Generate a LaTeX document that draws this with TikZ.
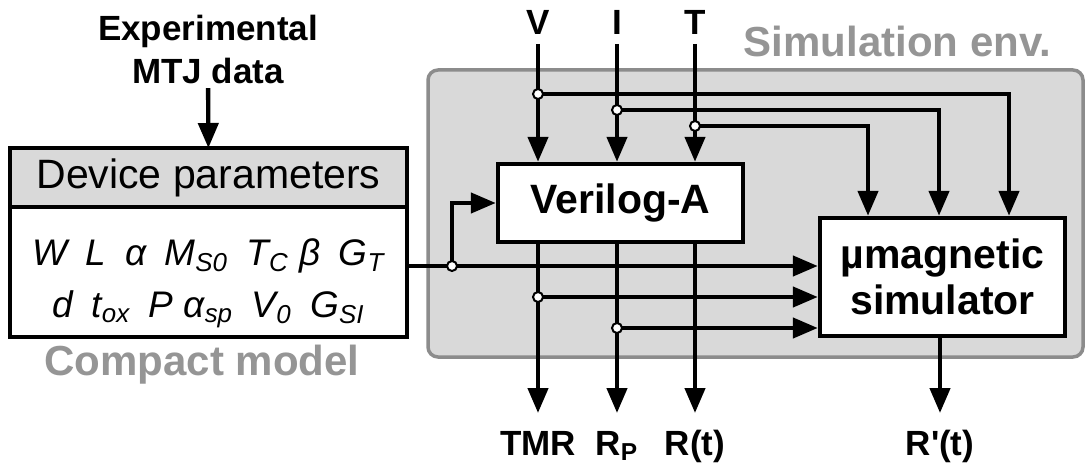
\documentclass[tikz,border=0pt]{standalone}
\usepackage{fontspec}
\setmainfont{Liberation Sans}
\usepackage{tikz}
\usetikzlibrary{positioning, calc, arrows.meta}

\definecolor{envfill}{HTML}{D9D9D9}
\definecolor{envdraw}{HTML}{8C8C8C}
\definecolor{softgray}{HTML}{959595}

\begin{document}
\begin{tikzpicture}[
  x=0.5pt, y=-0.5pt,
  line width=2.2pt,
  every node/.style={align=center},
  env/.style={rectangle, draw=envdraw, fill=envfill, line width=1.75pt,
              rounded corners=5pt, minimum width=327.5pt, minimum height=143.5pt},
  block/.style={rectangle, draw, fill=white, line width=2.2pt,
                minimum width=122.5pt, font=\bfseries\fontsize{20.5}{23}\selectfont},
  hdr/.style={rectangle, draw, fill=envfill, line width=2.2pt, outer sep=0pt,
              minimum width=198.5pt, minimum height=29.5pt,
              font=\fontsize{20.5}{23}\selectfont},
  body/.style={rectangle, draw, fill=white, line width=2.2pt, outer sep=0pt,
               inner sep=2pt, minimum width=198.5pt, minimum height=65pt,
               font=\itshape\fontsize{18.5}{25.5}\selectfont},
  sig/.style={font=\bfseries\fontsize{17.5}{21.5}\selectfont},
  outlbl/.style={sig, inner sep=0pt, outer sep=8pt, text height=13pt, text depth=0pt},
  title/.style={font=\bfseries\fontsize{21}{24}\selectfont, text=softgray},
  flow/.style={-{Triangle[length=12.5pt, width=10pt]}, line width=2.2pt},
  tap/.style={circle, draw, fill=white, line width=1pt, inner sep=0pt, minimum size=5pt}
]
\useasboundingbox (0,0) rectangle (1086,465);

% --- Simulation environment ---
\node[env] (env) at (755.5,213.5) {};
\node[title, anchor=base east] (envlbl) at (1060,57) {Simulation env.};

% --- Compact model ---
\node[hdr] (hdr) at (208.5,177.5) {Device parameters};
\node[body, below=0pt of hdr] (params) {%
  \rule{0pt}{25pt}W\enspace L\enspace α\enspace M\textsubscript{S0}\enspace T\textsubscript{C}\ β\enspace G\textsubscript{T}\\[0.5pt]
  d\enspace t\textsubscript{ox}\enspace P\ α\textsubscript{sp}\enspace V\textsubscript{0}\enspace G\textsubscript{SI}};
\node[title, anchor=base] (cmlbl) at (202,375) {Compact model};
\node[sig, anchor=north, inner sep=1pt] (exp) at (208,11) {Experimental\\MTJ data};

% --- Blocks ---
\node[block, minimum height=39pt] (veri) at (620.5,203) {Verilog-A};
\node[block, minimum height=59pt] (sim) at (942.5,277) {µmagnetic\\simulator};

% --- Inputs and outputs ---
\node[sig, anchor=base] (V) at (538,35) {V};
\node[sig, anchor=base] (I) at (617,35) {I};
\node[sig, anchor=base] (T) at (695,35) {T};
\node[outlbl, anchor=base] (TMR) at (538,455) {TMR};
\node[outlbl, anchor=base] (Rp) at (617,455) {R\textsubscript{P}};
\node[outlbl, anchor=base] (Rt) at (695,455) {R(t)};
\node[outlbl, anchor=base] (Rt2) at (940,455) {R\textquotesingle(t)};

% --- Junctions ---
\coordinate (jV) at (538,94);
\coordinate (jI) at (617,110);
\coordinate (jT) at (695,126);
\coordinate (jP) at (452,266);
\coordinate (jV2) at (538,297);
\coordinate (jI2) at (617,328);

% --- Arrows ---
\draw[flow] (exp) -- (hdr);
\draw[flow] (V) -- (V |- veri.north);
\draw[flow] (I) -- (I |- veri.north);
\draw[flow] (T) -- (T |- veri.north);

\draw[flow] (jV) -| ([xshift=33.25pt]sim.north);
\draw[flow] (jI) -| ([xshift=-1.75pt]sim.north);
\draw[flow] (jT) -| ([xshift=-37.25pt]sim.north);

\draw[flow] (params.east |- jP) -- (sim.west |- jP);
\draw[flow] (jP) |- (veri.west);
\draw[flow] (jV2) -- (sim.west |- jV2);
\draw[flow] (jI2) -- (sim.west |- jI2);

\draw[flow] (veri.south -| TMR) -- (TMR.north);
\draw[flow] (veri.south -| Rp) -- (Rp.north);
\draw[flow] (veri.south -| Rt) -- (Rt.north);
\draw[flow] (sim.south -| Rt2) -- (Rt2.north);

\foreach \j in {jV, jI, jT, jP, jV2, jI2}
  \node[tap] at (\j) {};

\end{tikzpicture}
\end{document}
